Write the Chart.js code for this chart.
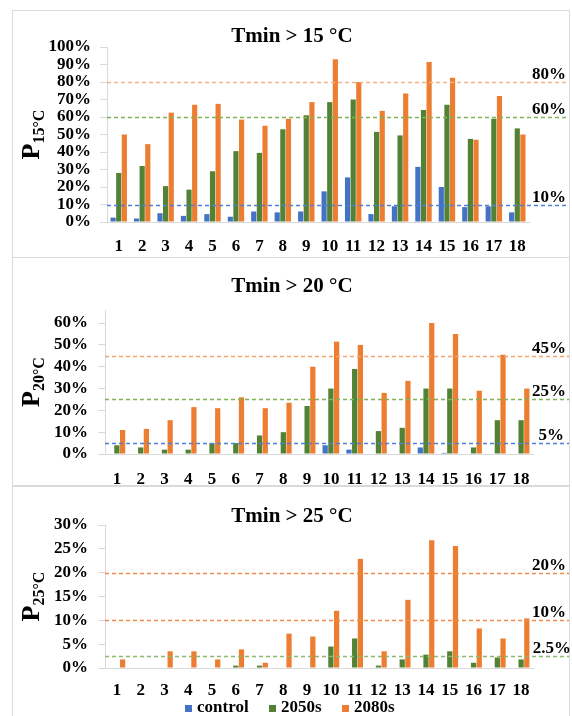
<!DOCTYPE html>
<html><head><meta charset="utf-8">
<script src="https://cdn.jsdelivr.net/npm/chart.js@4"></script>
<style>
html,body{margin:0;padding:0;background:#fff;width:572px;height:716px;overflow:hidden;}
body{position:relative;}
.panel{position:absolute;left:12px;width:558px;border:1.5px solid #DADADA;box-sizing:border-box;}
canvas{position:absolute;left:0;}
</style></head><body>
<div class="panel" style="top:10px;height:248px"></div>
<div class="panel" style="top:257px;height:229px"></div>
<div class="panel" style="top:486px;height:240px"></div>
<canvas id="c1" width="572" height="247" style="top:10px"></canvas>
<canvas id="c2" width="572" height="228" style="top:258px"></canvas>
<canvas id="c3" width="572" height="229" style="top:487px"></canvas>
<script>
const categories = ['1','2','3','4','5','6','7','8','9','10','11','12','13','14','15','16','17','18'];
const seriesNames = ['control','2050s','2080s'];
const seriesColors = ['#4472C4','#548235','#ED7D31'];

// Tmin > 15 °C
const control15 = [2.5,2,5,3.5,4.5,3,6,5.5,6,17.5,25.5,4.5,9,31.5,20,8.5,9,5.5];
const s2050_15  = [28,32,20.5,18.5,29,40.5,39.5,53,61,68.5,70,51.5,49.5,64,67,47.5,59,53.5];
const s2080_15  = [50,44.5,62.5,67,67.5,58.5,55,59,68.5,93,80,63.5,73.5,91.5,82.5,47,72,50];
// Tmin > 20 °C
const control20 = [0,0,0,0,0,0,0,0,0,4,2,0,0,3,0.5,0,0,0];
const s2050_20  = [4,3,2,2,5,5,8.5,10,22,30,39,10.5,12,30,30,3,15.5,15.5];
const s2080_20  = [11,11.5,15.5,21.5,21,26,21,23.5,40,51.5,50,28,33.5,60,55,29,45.5,30];
// Tmin > 25 °C
const control25 = [0,0,0,0,0,0,0,0,0,0,0,0,0,0,0,0,0,0];
const s2050_25  = [0,0,0,0,0,0.5,0.5,0,0,4.5,6.2,0.5,1.8,2.8,3.5,1.1,2.2,1.8];
const s2080_25  = [1.8,0,3.5,3.5,1.8,3.9,1.1,7.2,6.6,12,22.9,3.5,14.3,26.8,25.6,8.3,6.2,10.4];

const yTicks15 = [0,10,20,30,40,50,60,70,80,90,100];
const yTicks20 = [0,10,20,30,40,50,60];
const yTicks25 = [0,5,10,15,20,25,30];

const thresholds15 = [80,60,10];
const thresholds20 = [45,25,5];
const thresholds25 = [20,10,2.5];
const thresholdLabels15 = ['80%','60%','10%'];
const thresholdLabels20 = ['45%','25%','5%'];
const thresholdLabels25 = ['20%','10%','2.5%'];

const titles = ['Tmin > 15 °C','Tmin > 20 °C','Tmin > 25 °C'];
const ySubs = ['15°C','20°C','25°C'];

const FONT = '"Liberation Serif","Times New Roman",serif';

const deco = {
  id:'deco',
  afterDatasetsDraw(chart, args, o){
    const ctx = chart.ctx, ca = chart.chartArea, ys = chart.scales.y;
    ctx.save();
    o.thresholds.forEach((t,i)=>{
      const y = Math.round(ys.getPixelForValue(t))+0.5;
      ctx.strokeStyle = o.tColors[i];
      ctx.lineWidth = 1.3;
      ctx.setLineDash([4,3]);
      ctx.beginPath(); ctx.moveTo(ca.left, y); ctx.lineTo(569, y); ctx.stroke();
    });
    ctx.setLineDash([]);
    ctx.fillStyle = '#000';
    ctx.font = 'bold 17px '+FONT;
    ctx.textAlign = 'right'; ctx.textBaseline = 'alphabetic';
    o.thresholds.forEach((t,i)=>{
      const y = ys.getPixelForValue(t);
      ctx.fillText(o.tLabels[i], o.tLabelX[i], y-3);
    });
    ctx.font = 'bold 21px '+FONT;
    ctx.textAlign = 'center'; ctx.textBaseline = 'middle';
    ctx.fillText(o.title, 292, o.titleY);
    ctx.font = 'bold 26px '+FONT;
    const wP = ctx.measureText('P').width;
    ctx.font = 'bold 16px '+FONT;
    const wS = ctx.measureText(o.sub).width;
    const cy = (ca.top+ca.bottom)/2;
    ctx.translate(39, cy + (wP+wS)/2);
    ctx.rotate(-Math.PI/2);
    ctx.textAlign = 'left'; ctx.textBaseline = 'alphabetic';
    ctx.font = 'bold 26px '+FONT;
    ctx.fillText('P',0,0);
    ctx.font = 'bold 16px '+FONT;
    ctx.fillText(o.sub, wP, 5);
    ctx.setTransform(1,0,0,1,0,0);
    if (o.legend){
      ctx.font = 'bold 17px '+FONT;
      ctx.textAlign='left'; ctx.textBaseline='middle';
      chart.data.datasets.forEach((ds,i)=>{
        const x = o.legendX[i];
        ctx.fillStyle = ds.backgroundColor;
        ctx.fillRect(x, o.legendY-3, 7, 7);
        ctx.fillStyle = '#000';
        ctx.fillText(ds.label, x+12, o.legendY);
      });
    }
    ctx.restore();
  }
};

function makeChart(id, data3, ticks, max, geo, plug){
  const H = document.getElementById(id).height;
  return new Chart(document.getElementById(id), {
    type:'bar',
    data:{labels:categories, datasets:data3.map((d,i)=>({label:seriesNames[i], data:d, backgroundColor:seriesColors[i], borderWidth:0, barPercentage:0.92, categoryPercentage:0.72}))},
    options:{
      responsive:false, animation:false, devicePixelRatio:1,
      layout:{padding:{left:0,right:572-geo.right,top:geo.top,bottom:0}},
      plugins:{legend:{display:false}, tooltip:{enabled:false}, title:{display:false}, deco:plug},
      scales:{
        x:{grid:{display:false}, border:{display:true,color:'#D9D9D9',width:1},
           ticks:{color:'#000', font:{family:FONT,size:17,weight:'bold'}, padding:geo.xpad, maxRotation:0, autoSkip:false},
           afterFit(s){ s.height = H - geo.bottom; }},
        y:{min:0, max:max,
           afterBuildTicks(s){ s.ticks = ticks.map(v=>({value:v})); },
           grid:{drawOnChartArea:false, drawTicks:true, tickLength:7, color:'#D9D9D9'},
           border:{display:true,color:'#D9D9D9',width:1},
           ticks:{color:'#000', font:{family:FONT,size:17,weight:'bold'}, padding:geo.ypad, autoSkip:false, callback:v=>v+'%'},
           afterFit(s){ s.width = geo.left; }}
      }
    },
    plugins:[deco]
  });
}

makeChart('c1',[control15,s2050_15,s2080_15], yTicks15, 100,
  {left:107,right:529,top:37,bottom:212,xpad:6,ypad:9},
  {thresholds:thresholds15, tLabels:thresholdLabels15, tColors:['#F4B183','#7FB356','#4F7FD6'], tLabelX:[566,566,566], title:titles[0], titleY:27, sub:ySubs[0]});
makeChart('c2',[control20,s2050_20,s2080_20], yTicks20, 66,
  {left:105,right:533,top:52,bottom:196,xpad:7,ypad:10},
  {thresholds:thresholds20, tLabels:thresholdLabels20, tColors:['#F4A36B','#7FB356','#4F7FD6'], tLabelX:[566,566,564], title:titles[1], titleY:29, sub:ySubs[1]});
makeChart('c3',[control25,s2050_25,s2080_25], yTicks25, 30,
  {left:105,right:533,top:38,bottom:181,xpad:4,ypad:10},
  {thresholds:thresholds25, tLabels:thresholdLabels25, tColors:['#F08A4B','#F08A4B','#8DB86B'], tLabelX:[566,566,571], title:titles[2], titleY:30, sub:ySubs[2], legend:true, legendX:[185,269,342], legendY:221});
</script>
</body></html>
